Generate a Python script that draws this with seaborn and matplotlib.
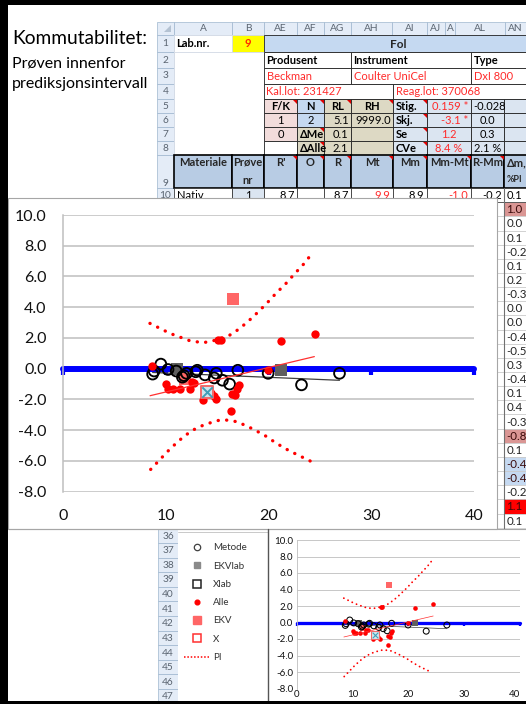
import numpy as np
import pandas as pd
import matplotlib
matplotlib.use("Agg")
import matplotlib.pyplot as plt
import seaborn as sns
from matplotlib.patches import Rectangle, Polygon
from matplotlib.lines import Line2D

sns.set_theme(style="white")
plt.rcParams["font.family"] = ["Lato", "DejaVu Sans"]

W, H = 526, 704

# ---------------------------------------------------------------- data
# Metode: open circles (x = measured, y = difference)
metode_x = [8.7, 8.85, 9.5, 10.2, 11.0, 11.6, 11.75, 12.0, 12.9, 13.05,
            13.8, 14.7, 14.9, 15.5, 16.2, 17.0, 19.95, 23.2, 26.9]
metode_y = [-0.35, -0.15, 0.3, -0.05, -0.15, -0.55, -0.45, -0.3, -0.2, -0.1,
            -0.4, -0.6, -0.3, -0.75, -1.0, -0.1, -0.3, -1.05, -0.3]

# EKVlab: grey squares
ekvlab_x = [11.1, 21.2]
ekvlab_y = [0.0, -0.08]

# Alle: red dots
alle_x = [8.6, 10.05, 10.2, 10.7, 11.35, 12.3, 12.5, 12.7, 13.6, 14.4, 14.65,
          14.9, 15.1, 15.35, 16.3, 16.4, 16.7, 16.9, 17.1, 19.95, 21.2, 24.5]
alle_y = [0.15, -1.0, -1.3, -1.3, -1.3, -1.3, -0.85, -0.95, -2.05, -1.6, -1.8,
          -1.95, 1.85, 1.9, -2.75, -1.65, -1.7, -1.3, -1.05, -0.1, 1.8, 2.25]

# EKV: pink squares
ekv_x = [16.5, 11.9]
ekv_y = [4.55, -0.7]

# X / Xlab: open square
x_x = [14.0]
x_y = [-1.5]

# prediction interval (PI) limits
pi_up_x = [8.44, 10.39, 12.24, 13.54, 14.22, 15.16, 16.07, 16.72, 17.86,
           18.83, 19.81, 20.71, 21.69, 22.56, 23.47, 24.35]
pi_up_y = [2.95, 2.30, 1.84, 1.69, 1.76, 1.91, 2.13, 2.39, 2.99,
           3.60, 4.25, 4.90, 5.55, 6.20, 6.85, 7.61]
pi_lo_x = [8.51, 9.51, 10.45, 11.53, 12.50, 13.64, 14.94, 15.68, 16.95,
           18.34, 19.58, 20.78, 22.01, 23.21, 24.19]
pi_lo_y = [-6.55, -5.84, -5.18, -4.53, -4.03, -3.67, -3.38, -3.32, -3.45,
           -3.88, -4.32, -4.86, -5.34, -5.73, -6.05]

# regression lines: slope / intercept from the table (Stig., Skj.)
stig_lab, skj_lab = 0.159, -3.1
stig_met, skj_met = -0.028, 0.0
lab_fit_x = [8.45, 24.45]
met_fit_x = [8.7, 26.9]

# zero line
zero_x = [0, 10, 20, 30, 40]
zero_y = [0, 0, 0, 0, 0]

y_ticks = [-8.0, -6.0, -4.0, -2.0, 0.0, 2.0, 4.0, 6.0, 8.0, 10.0]
x_ticks = [0, 10, 20, 30, 40]

# AN column (Δm, %PI), rows 10-33
an_values = ["0.1", "1.0", "0.0", "0.1", "-0.2", "0.1", "0.2", "-0.3", "0.0",
             "0.0", "-0.4", "-0.5", "0.3", "-0.4", "0.1", "0.4", "-0.3", "-0.8",
             "0.1", "-0.4", "-0.4", "-0.2", "1.1", "0.1"]
an_fill = {11: "#da9694", 27: "#da9694", 29: "#c5d9f1", 30: "#c5d9f1", 32: "#ff0000"}

legend_labels = ["Metode", "EKVlab", "Xlab", "Alle", "EKV", "X", "PI"]
row_numbers_bottom = list(range(36, 48))

# ---------------------------------------------------------------- figure
fig = plt.figure(figsize=(W / 100, H / 100), dpi=100, facecolor="white")
bg = fig.add_axes([0, 0, 1, 1])
bg.set_xlim(0, W)
bg.set_ylim(H, 0)
bg.axis("off")

RED = "#ff2a2a"
PINK = "#f2dcdb"
BLUE = "#c5d9f1"
LBLUE = "#dbe5f1"
TAN = "#ddd9c4"
HDR = "#b8cce4"
GRID = "#d4dbe6"


def cell(x0, x1, y0, y1, text="", fill="white", color="black", bold=False,
         ha="left", edge="#222222", lw=0.6, size=8.0, ty=None, z=2):
    bg.add_patch(Rectangle((x0, y0), x1 - x0, y1 - y0, facecolor=fill,
                           edgecolor=edge if edge else "none",
                           lw=lw if edge else 0, zorder=z))
    if text:
        tx = {"left": x0 + 2.5, "right": x1 - 2.5, "center": (x0 + x1) / 2}[ha]
        bg.text(tx, (y0 + y1) / 2 + 0.5 if ty is None else ty, text, ha=ha,
                va="center", color=color, fontsize=size,
                fontweight="bold" if bold else "normal", zorder=z + 1)


def note(x1, y0):
    bg.add_patch(Polygon([(x1 - 4.5, y0 + 0.5), (x1 - 0.5, y0 + 0.5), (x1 - 0.5, y0 + 4.5)],
                         closed=True, facecolor="#e00000", edgecolor="none", zorder=6))


# title text
bg.text(12, 38, "Kommutabilitet:", fontsize=13.8, va="center", ha="left", color="black")
bg.text(12, 64, "Prøven innenfor", fontsize=11.5, va="center", ha="left", color="black")
bg.text(12, 84, "prediksjonsintervall", fontsize=11.5, va="center", ha="left", color="black")

# ---- spreadsheet
cx = {"A": (174, 232), "B": (232, 264), "AE": (264, 297), "AF": (297, 324),
      "AG": (324, 351), "AH": (351, 393), "AI": (393, 427), "AJ": (427, 471),
      "AL": (471, 504), "AN": (504, 545)}
ry = {1: (34.5, 52), 2: (52, 67.5), 3: (67.5, 83.5), 4: (83.5, 99), 5: (99, 113),
      6: (113, 127), 7: (127, 141), 8: (141, 155), 9: (155, 188), 10: (188, 202.2)}

# column header strip
hdr_edges = [157, 174, 232, 264, 297, 324, 351, 392, 427, 445, 455, 505, 545]
hdr_names = ["", "A", "B", "AE", "AF", "AG", "AH", "AI", "AJ", "A", "AL", "AN"]
for i, name in enumerate(hdr_names):
    x0, x1 = hdr_edges[i], hdr_edges[i + 1]
    if name == "AN":
        cell(x0, x1, 22, 34.5, name, fill="#e4ecf7", color="#5a6470", ha="left",
             edge="#9eb6ce", lw=0.5, size=7.3)
    else:
        cell(x0, x1, 22, 34.5, name, fill="#e4ecf7", color="#5a6470", ha="center",
             edge="#9eb6ce", lw=0.5, size=7.3)
bg.add_patch(Polygon([(171, 25), (171, 32), (164, 32)], closed=True,
                     facecolor="#b4c2d2", edgecolor="none", zorder=4))

# row number strip
for r, (y0, y1) in ry.items():
    ty = y1 - 5 if r == 9 else None
    cell(157, 174, y0, y1, str(r), fill="#e4ecf7", color="#5a6470", ha="center",
         edge="#9eb6ce", lw=0.5, size=7.3, ty=ty)

# row 1
cell(*cx["A"], *ry[1], "Lab.nr.", bold=True, edge=GRID)
cell(*cx["B"], *ry[1], "9", fill="#ffff00", color="#ff2a00", bold=True, ha="center", edge=GRID)
cell(cx["AE"][0], 545, *ry[1], "", fill=BLUE)
bg.text(398, 44, "Fol", ha="center", va="center", fontsize=8.5, fontweight="bold", zorder=4)
# A2:B8 merged blank
cell(174, 264, 52, 155, "", edge=GRID)
# rows 2-4
cell(264, 351, *ry[2], "Produsent", bold=True)
cell(351, 471, *ry[2], "Instrument", bold=True)
cell(471, 545, *ry[2], "Type", bold=True)
cell(264, 351, *ry[3], "Beckman", color=RED)
cell(351, 471, *ry[3], "Coulter UniCel", color=RED)
cell(471, 545, *ry[3], "DxI 800", color=RED)
cell(264, 393, *ry[4], "Kal.lot: 231427", color=RED)
cell(393, 545, *ry[4], "Reag.lot: 370068", color=RED)

# rows 5-8
block = [
    [("F/K", PINK, "center", True, "black"), ("N", BLUE, "center", True, "black"),
     ("RL", TAN, "center", True, "black"), ("RH", TAN, "center", True, "black"),
     ("Stig.", LBLUE, "left", True, "black"), ("0.159 *", LBLUE, "right", False, RED),
     ("-0.028", LBLUE, "left", False, "black"), ("", LBLUE, "left", False, "black")],
    [("1", PINK, "center", False, "black"), ("2", BLUE, "center", False, "black"),
     ("5.1", TAN, "right", False, "black"), ("9999.0", TAN, "right", False, "black"),
     ("Skj.", LBLUE, "left", True, "black"), ("-3.1 *", LBLUE, "right", False, RED),
     ("0.0", LBLUE, "center", False, "black"), ("", LBLUE, "left", False, "black")],
    [("0", PINK, "center", False, "black"), ("ΔMe", TAN, "left", True, "black"),
     ("0.1", TAN, "right", False, "black"), ("", TAN, "right", False, "black"),
     ("Se", LBLUE, "left", True, "black"), ("1.2", LBLUE, "center", False, RED),
     ("0.3", LBLUE, "center", False, "black"), ("", LBLUE, "left", False, "black")],
    [("", "white", "center", False, "black"), ("ΔAlle", TAN, "left", True, "black"),
     ("2.1", TAN, "right", False, "black"), ("", TAN, "right", False, "black"),
     ("CVe", LBLUE, "left", True, "black"), ("8.4 %", LBLUE, "center", False, RED),
     ("2.1 %", LBLUE, "center", False, "black"), ("", LBLUE, "left", False, "black")],
]
cols58 = ["AE", "AF", "AG", "AH", "AI", "AJ", "AL", "AN"]
for i, row in enumerate(block):
    r = 5 + i
    for c, (txt, fill, ha, bold, col) in zip(cols58, row):
        cell(*cx[c], *ry[r], txt, fill=fill, color=col, bold=bold, ha=ha)
for c in ["AE", "AF", "AG", "AH", "AI"]:
    note(cx[c][1], ry[5][0])
for r in (6, 7, 8):
    note(cx["AI"][1], ry[r][0])
note(cx["AF"][1], ry[7][0])
note(cx["AF"][1], ry[8][0])

# row 9 header
hdr9 = [("A", "Materiale"), ("B", "Prøve"), ("AE", "R'"), ("AF", "O"), ("AG", "R"),
        ("AH", "Mt"), ("AI", "Mm"), ("AJ", "Mm-Mt"), ("AL", "R-Mm"), ("AN", "Δm,")]
for c, txt in hdr9:
    x0, x1 = cx[c]
    cell(x0, x1, *ry[9], "", fill=HDR, lw=1.2, edge="black")
    tx = x0 + 3 if c == "AN" else (x0 + x1) / 2
    bg.text(tx, 162.5, txt, ha="left" if c == "AN" else "center", va="center",
            fontsize=8, fontweight="bold", zorder=4)
    if c not in ("A", "B", "AN"):
        note(x1, ry[9][0])
bg.text(248, 180, "nr", ha="center", va="center", fontsize=8, fontweight="bold", zorder=4)
bg.text(507, 180, "%PI", ha="left", va="center", fontsize=6.5, fontweight="bold", zorder=4)

# row 10
row10 = [("A", "Nativ", "left", "black", "white"), ("B", "1", "center", "black", LBLUE),
         ("AE", "8.7", "right", "black", "white"), ("AF", "", "right", "black", "white"),
         ("AG", "8.7", "right", "black", "white"), ("AH", "9.9", "right", RED, "white"),
         ("AI", "8.9", "right", "black", "white"), ("AJ", "-1.0", "right", RED, "white"),
         ("AL", "-0.2", "right", "black", "white"), ("AN", "0.1", "left", "black", "white")]
for c, txt, ha, col, fill in row10:
    cell(*cx[c], *ry[10], txt, fill=fill, color=col, ha=ha, edge="#222222", lw=0.5)

# AN column continuing beside the chart (rows 11-33)
row_h = 14.15
for i, val in enumerate(an_values[1:]):
    r = 11 + i
    y0 = 202.2 + i * row_h
    cell(497, 504, y0, y0 + row_h, "", edge="#c8c8c8", lw=0.5, z=1)
    fill = an_fill.get(r, "white")
    col = "#3a0a0a" if r in an_fill else "#222222"
    cell(504, 545, y0, y0 + row_h, val, fill=fill, color=col, ha="left",
         edge="#c8c8c8", lw=0.5, size=8.3, z=1)
bg.plot([503.5, 503.5], [188, 529], color="#707070", lw=0.8, zorder=3)

# chart area
bg.add_patch(Rectangle((8, 198), 489, 331, facecolor="white", edgecolor="#a6a6a6",
                       lw=0.8, zorder=8))
bg.plot([8, 526], [529, 529], color="#a6a6a6", lw=0.8, zorder=8)

# bottom sheet: row numbers 36-47
for j, rn in enumerate(row_numbers_bottom):
    y1 = 703.6 - (47 - rn) * 14.6
    cell(158, 178, y1 - 14.6, y1, str(rn), fill="#e4ecf7", color="#5a6470",
         ha="center", edge="#9eb6ce", lw=0.5, size=7.3, z=7)
bg.add_patch(Rectangle((178, 529.5), 90, 175, facecolor="white", edgecolor="none", zorder=7))
bg.plot([178, 268], [531.5, 531.5], color="#c0c0c0", lw=0.6, zorder=9)
bg.plot([267.5, 267.5], [529, 704], color="#555555", lw=1.0, zorder=9)


# ---------------------------------------------------------------- charts
def draw_difference(ax, k, tick_size, pad_y, pad_x):
    ax.set_facecolor("none")
    ax.set_xlim(0, 40)
    ax.set_ylim(-8, 10)
    ax.set_axisbelow(True)
    ax.yaxis.grid(True, color="#bfbfbf", lw=1.1 * k)
    ax.xaxis.grid(False)
    for s in ("top", "right", "bottom"):
        ax.spines[s].set_visible(False)
    ax.spines["left"].set_color("#bfbfbf")
    ax.spines["left"].set_linewidth(1.1 * k)

    sns.lineplot(x=zero_x, y=zero_y, ax=ax, color="#0000ff", lw=4.3 * k,
                 marker=3, ms=4.5 * k, mew=3.0 * k, mec="#0000ff",
                 estimator=None, sort=False, clip_on=False, zorder=2)
    dots = dict(color="#ff0000", lw=2.4 * k, linestyle=(0, (0.05, 2.5)),
                dash_capstyle="round", estimator=None, sort=False, zorder=3)
    sns.lineplot(x=pi_up_x, y=pi_up_y, ax=ax, **dots)
    sns.lineplot(x=pi_lo_x, y=pi_lo_y, ax=ax, **dots)

    sns.lineplot(x=met_fit_x, y=[stig_met * v + skj_met for v in met_fit_x], ax=ax,
                 color="#404040", lw=0.9 * k, estimator=None, sort=False, zorder=3)

    sns.scatterplot(x=ekvlab_x, y=ekvlab_y, ax=ax, marker="s", s=80 * k * k,
                    color="#5f5f5f", edgecolor="#5f5f5f", linewidth=0, zorder=3)
    sns.scatterplot(x=ekv_x, y=ekv_y, ax=ax, marker="s", s=78 * k * k,
                    color="#ff6666", edgecolor="#ff6666", linewidth=0, zorder=3)
    sns.scatterplot(x=metode_x, y=metode_y, ax=ax, marker="o", s=60 * k * k,
                    facecolor="none", edgecolor="black", linewidth=1.35 * k, zorder=4)
    sns.scatterplot(x=alle_x, y=alle_y, ax=ax, marker="o", s=36 * k * k,
                    color="#ff0000", edgecolor="#ff0000", linewidth=0, zorder=5)
    sns.scatterplot(x=x_x, y=x_y, ax=ax, marker="s", s=85 * k * k,
                    facecolor="#cfe6ee", edgecolor="#f06a6a", linewidth=1.4 * k, zorder=6)
    sns.scatterplot(x=x_x, y=x_y, ax=ax, marker="x", s=55 * k * k,
                    color="#3f9fb8", linewidth=1.4 * k, zorder=7)
    sns.lineplot(x=lab_fit_x, y=[stig_lab * v + skj_lab for v in lab_fit_x], ax=ax,
                 color="#ff3030", lw=0.9 * k, estimator=None, sort=False, zorder=6)

    ax.set_yticks(y_ticks)
    ax.set_yticklabels([f"{v:.1f}" for v in y_ticks])
    ax.set_xticks(x_ticks)
    ax.set_xticklabels([str(v) for v in x_ticks])
    ax.tick_params(length=0, labelsize=tick_size, colors="#111111")
    ax.tick_params(axis="y", pad=pad_y)
    ax.tick_params(axis="x", pad=pad_x)
    ax.set_xlabel("")
    ax.set_ylabel("")


ax_main = fig.add_axes([63.3 / W, 1 - 491.7 / H, 410.7 / W, 276.7 / H])
draw_difference(ax_main, 1.0, 11.5, 12.0, 12.5)

ax_small = fig.add_axes([296.7 / W, 1 - 688.5 / H, 223.3 / W, 148.5 / H])
draw_difference(ax_small, 0.55, 7.0, 2.6, 1.2)
for lbl in ax_small.get_xticklabels():
    lbl.set_horizontalalignment("center")
ax_small.get_xticklabels()[-1].set_horizontalalignment("right")

# legend of the small chart
handles = [
    Line2D([], [], ls="none", marker="o", ms=4.6, mfc="none", mec="#404040", mew=0.9),
    Line2D([], [], ls="none", marker="s", ms=4.6, mfc="#8a8a8a", mec="#8a8a8a"),
    Line2D([], [], ls="none", marker="s", ms=5.6, mfc="none", mec="#222222", mew=1.1),
    Line2D([], [], ls="none", marker="o", ms=3.4, mfc="#ff0000", mec="#ff0000"),
    Line2D([], [], ls="none", marker="s", ms=5.4, mfc="#ff6666", mec="#ff6666"),
    Line2D([], [], ls="none", marker="s", ms=5.6, mfc="none", mec="#ff3030", mew=1.1),
    Line2D([], [], color="#ff0000", lw=1.1, linestyle=(0, (1, 1.2))),
]
fig.legend(handles, legend_labels, loc="upper left",
           bbox_to_anchor=(184 / W, 1 - 543.5 / H), frameon=False, fontsize=7,
           handlelength=2.6, handletextpad=0.35, labelspacing=0.95,
           borderpad=0, borderaxespad=0, labelcolor="#333333")

# black frame
top = fig.add_axes([0, 0, 1, 1], zorder=20)
top.set_xlim(0, W)
top.set_ylim(H, 0)
top.axis("off")
for rect in [(0, 0, W, 5), (0, 0, 7.5, H), (0, 701, W, 3)]:
    top.add_patch(Rectangle(rect[:2], rect[2], rect[3], facecolor="black",
                            edgecolor="none"))

fig.savefig("out.png", dpi=100)
